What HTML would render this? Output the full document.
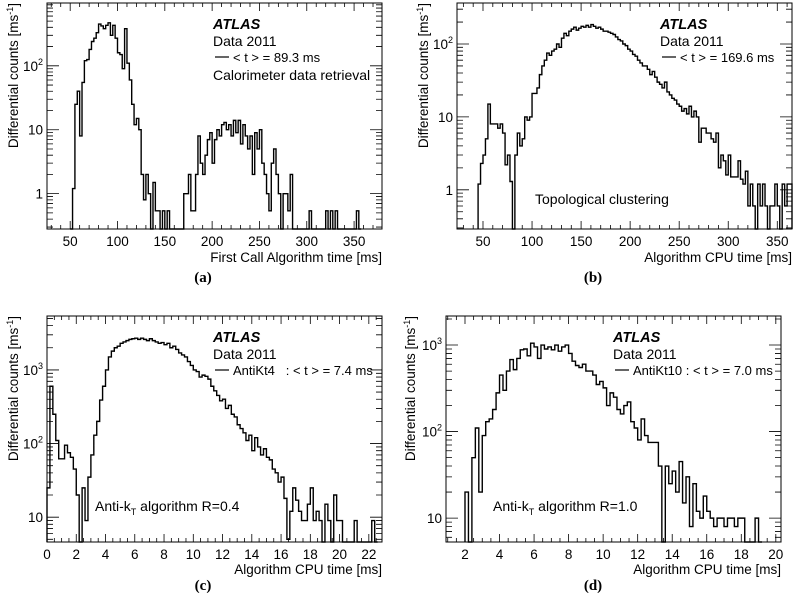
<!DOCTYPE html>
<html><head><meta charset="utf-8"><style>
body{margin:0;background:#fff}
svg{display:block;font-family:"Liberation Sans",Arial,sans-serif}
</style></head><body>
<svg id="fig" width="793" height="593" viewBox="0 0 793 593" xmlns="http://www.w3.org/2000/svg"></svg>
<script>
// ---- Panel (a) data ----
const aStart=50, aWidth=2.5;
const aValues=[0,1.2,25,40,8,55,120,125,180,240,270,330,450,420,380,430,470,300,430,270,160,150,90,380,110,60,25,12,15,10,2,0.8,2,1,0,1.5,0.54,0.54,0,0.54,0,0.54,0,0,0,0,0,0,1,1,2,0.54,0.54,2,8,3,2,4,7,9,3,7,10,8,12,13,10,12,8,14,9,14,6,12,8,5,8,2,9,5,10,3,2,1,0.54,3,5,2,1,0,1,1,0.54,2,0,0,0,0,0,0,0,0.54,0,0,0,0,0,0,0.54,0,0.54,0,0.54,0,0,0,0,0,0,0,0,0.54,0];
const aTicks=[50,100,150,200,250,300,350];
// ---- Panel (b) data ----
const bStart=45, bWidth=2.5;
const bValues=[1.2,2.3,3,5,15,8,8,8,7,8,6,2.2,3,1.3,0,3,6,4,5,10,9,10,21,21,25,38,50,60,75,70,80,85,100,90,120,140,130,150,160,170,155,165,175,170,180,170,185,175,165,170,160,150,150,145,140,135,125,115,110,100,95,85,80,72,68,60,55,50,50,45,38,42,35,30,28,25,30,22,20,18,17,15,14,12,13,11,14,10,12,10,4.5,7,7,6,6,5,4.5,6,2,3,2.5,1.6,3,1.5,1.5,1.5,2.5,1.4,1.2,1.8,0.6,1.2,0.6,0,1.2,0.6,1.2,0.6,0,0.6,0.6,1.2,0.6,0,1.2,0.6,1.2,1.2];
const bTicks=[50,100,150,200,250,300,350];
// ---- Panel (c) data ----
const cStart=0, cWidth=0.2;
const cValues=[25,600,250,110,62,62,95,75,65,45,20,0,25,9,35,70,130,200,390,600,1000,1500,1800,2000,2100,2300,2400,2500,2600,2650,2700,2600,2700,2600,2500,2650,2500,2400,2300,2350,2200,2300,2000,2100,1900,1700,1600,1500,1300,1150,1000,950,800,850,820,750,600,520,450,380,400,300,330,250,230,180,160,140,110,130,80,120,90,70,85,65,60,45,40,30,35,18,5,12,25,17,12,9,9,15,25,9,12,9,0,15,9,0,20,9,9,0,0,0,0,9,0,0,0,0,0,9,0];
const cTicks=[0,2,4,6,8,10,12,14,16,18,20,22];
// ---- Panel (d) data ----
const dStart=2, dWidth=0.2;
const dValues=[20,0,50,110,20,90,130,140,180,280,450,300,500,680,520,700,880,900,750,1050,950,700,1000,900,950,880,1000,850,950,1000,800,650,580,550,600,500,500,450,350,380,320,200,280,250,180,160,200,220,130,110,80,140,90,75,75,75,40,0,40,25,35,20,45,15,30,8,25,12,10,18,12,10,8,10,10,8,10,10,8,10,10,0,0,0,10,0];
const dTicks=[2,4,6,8,10,12,14,16,18,20];

const NS="http://www.w3.org/2000/svg";
const fig=document.getElementById('fig');
function mk(tag,attrs,parent){const e=document.createElementNS(NS,tag);for(const k in attrs)e.setAttribute(k,attrs[k]);(parent||fig).appendChild(e);return e;}
function txt(s,x,y,size,parent,extra){const t=mk('text',Object.assign({x:x,y:y,'font-size':size,fill:'#000'},extra||{}),parent);t.textContent=s;return t;}

function panel(cfg){
  const g=mk('g',{});
  
  
  const L=cfg.L,R=cfg.R,T=cfg.T,B=cfg.B;
  const sx=v=>L+(v-cfg.x0)/(cfg.x1-cfg.x0)*(R-L);
  const ly0=Math.log10(cfg.y0),ly1=Math.log10(cfg.y1);
  const sy=v=>{if(v<=cfg.y0)return B;const p=B-(Math.log10(v)-ly0)/(ly1-ly0)*(B-T);return Math.max(T,p);};
  let d='M'+sx(cfg.start)+','+B;
  cfg.values.forEach((v,i)=>{const xa=sx(cfg.start+i*cfg.width),xb=sx(cfg.start+(i+1)*cfg.width),y=sy(v);d+=' L'+xa+','+y+' L'+xb+','+y;});
  d+=' L'+sx(cfg.start+cfg.values.length*cfg.width)+','+B;
  const h=mk('path',{d:d,fill:'none',stroke:'#000','stroke-width':1.4},g);
  
  
  const fr=mk('rect',{x:L,y:T,width:R-L,height:B-T,fill:'none',stroke:'#000','stroke-width':1},g);
  
  
  let tp='';
  const minorStep=cfg.xminor;
  for(let v=Math.ceil(cfg.x0/minorStep)*minorStep;v<=cfg.x1+1e-9;v+=minorStep){
    const major=Math.abs(v/cfg.xmajor-Math.round(v/cfg.xmajor))<1e-6;const len=major?8:4;const x=sx(v);
    tp+='M'+x+','+B+'v'+(-len)+'M'+x+','+T+'v'+len;
  }
  for(let e=Math.floor(ly0);e<=Math.ceil(ly1);e++){
    for(let m=1;m<10;m++){const v=m*Math.pow(10,e);if(v<cfg.y0||v>cfg.y1)continue;const y=sy(v);const len=m==1?12:6;
      tp+='M'+L+','+y+'h'+len+'M'+R+','+y+'h'+(-len);}
  }
  mk('path',{d:tp,stroke:'#000','stroke-width':0.8,fill:'none'},g);
  cfg.ticks.forEach(v=>{const t=txt(String(v),sx(v),B+17,13.5,g,{'text-anchor':'middle'});
    
    });
  cfg.ylabels.forEach(o=>{const y=sy(o.v);const t=mk('text',{x:L-4,y:y+5,'font-size':13.5,'text-anchor':'end'},g);
    if(o.e){t.textContent='10';const s=mk('tspan',{dy:-6,'font-size':9},t);s.textContent=o.e;}else t.textContent=o.t;
    
    });
  const xt=txt(cfg.xtitle,R,cfg.xtY,13.5,g,{'text-anchor':'end'});
  
  
  const yt=mk('text',{transform:'translate('+cfg.ytX+','+T+') rotate(-90)','font-size':13.5,'text-anchor':'end'},g);
  yt.textContent='Differential counts [ms';const ys=mk('tspan',{dy:-5,'font-size':9},yt);ys.textContent='-1';const ys2=mk('tspan',{dy:5},yt);ys2.textContent=']';
  
  
  const at=txt('ATLAS',cfg.lx,cfg.ly,14.5,g,{'font-weight':'bold','font-style':'italic'});
  
  
  const dt=txt('Data 2011',cfg.lx,cfg.ly+17,14,g);
  
  
  mk('line',{x1:cfg.lx+2,x2:cfg.lx+16,y1:cfg.ly+28,y2:cfg.ly+28,stroke:'#000','stroke-width':1.2},g);
  const lg=txt(cfg.legend,cfg.lx+20,cfg.ly+33,13,g,{style:'white-space:pre'});
  
  
  if(cfg.note){const n=txt(cfg.note.t,cfg.note.x,cfg.note.y,14,g);
    if(cfg.note.k){n.textContent='Anti-k';const s=mk('tspan',{dy:4,'font-size':9},n);s.textContent='T';const s2=mk('tspan',{dy:-4},n);s2.textContent=' algorithm '+cfg.note.k;}
    
    }
  const pl=txt(cfg.plabel,cfg.px,cfg.py,15,g,{'font-family':'"Liberation Serif",serif','font-weight':'bold','text-anchor':'middle'});
  
  
}

panel({name:'panel-a',L:47,R:382,T:3,B:229,x0:25.5,x1:379.5,y0:0.28,y1:960,start:aStart,width:aWidth,values:aValues,ticks:aTicks,xmajor:50,xminor:10,
  ylabels:[{v:1,t:'1'},{v:10,t:'10'},{v:100,e:'2'}],xtitle:'First Call Algorithm time [ms]',xtY:262,ytX:18,lx:213,ly:29,legend:'< t > = 89.3 ms',
  note:{t:'Calorimeter data retrieval',x:213,y:80},plabel:'(a)',px:203,py:282});
panel({name:'panel-b',L:457,R:792,T:3,B:229,x0:23.5,x1:365,y0:0.29,y1:365,start:bStart,width:bWidth,values:bValues,ticks:bTicks,xmajor:50,xminor:10,
  ylabels:[{v:1,t:'1'},{v:10,t:'10'},{v:100,e:'2'}],xtitle:'Algorithm CPU time [ms]',xtY:262,ytX:428,lx:660,ly:29,legend:'< t > = 169.6 ms',
  note:{t:'Topological clustering',x:535,y:204},plabel:'(b)',px:593,py:282});
panel({name:'panel-c',L:47,R:382,T:316,B:542,x0:0,x1:22.9,y0:4.6,y1:5400,start:cStart,width:cWidth,values:cValues,ticks:cTicks,xmajor:2,xminor:0.5,
  ylabels:[{v:10,t:'10'},{v:100,e:'2'},{v:1000,e:'3'}],xtitle:'Algorithm CPU time [ms]',xtY:574,ytX:18,lx:213,ly:342,legend:'AntiKt4   : < t > = 7.4 ms',
  note:{t:'',k:'R=0.4',x:95,y:511},plabel:'(c)',px:203,py:590});
panel({name:'panel-d',L:446,R:781,T:316,B:542,x0:0.9,x1:20.3,y0:5.3,y1:2165,start:dStart,width:dWidth,values:dValues,ticks:dTicks,xmajor:2,xminor:0.5,
  ylabels:[{v:10,t:'10'},{v:100,e:'2'},{v:1000,e:'3'}],xtitle:'Algorithm CPU time [ms]',xtY:574,ytX:415,lx:613,ly:342,legend:'AntiKt10 : < t > = 7.0 ms',
  note:{t:'',k:'R=1.0',x:493,y:511},plabel:'(d)',px:593,py:590});
</script>
</body></html>
